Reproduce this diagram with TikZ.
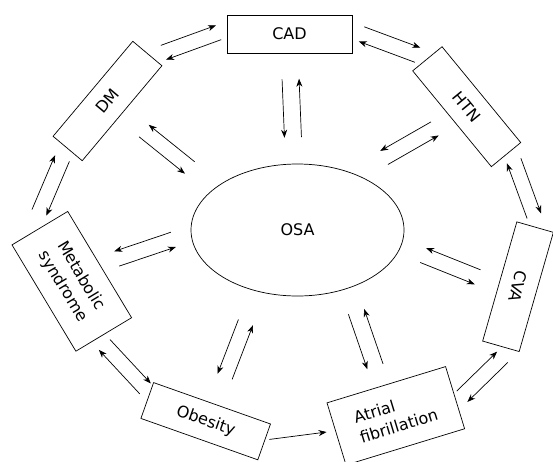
\documentclass[tikz,border=0pt]{standalone}
\usepackage{fontspec}
\setmainfont{DejaVu Sans}
\usetikzlibrary{calc,shapes.geometric,arrows.meta}

\begin{document}
\begin{tikzpicture}[
  x=1pt, y=-1pt,
  box/.style={draw, line width=0.7pt, minimum width=124pt, minimum height=38pt, inner sep=2pt, align=center},
  tallbox/.style={box, minimum height=65pt},
  arr/.style={-{Stealth[length=8pt,width=6pt,inset=2.5pt]}, line width=0.7pt}
]

\fontsize{16}{21}\selectfont

\useasboundingbox (0,0) rectangle (553,461);

% centre
\node[draw, ellipse, line width=0.7pt, minimum width=213pt, minimum height=132pt, inner sep=0pt] (osa) at (297.5,230) {OSA};

% outer boxes
\node[box, minimum width=125pt] (cad) at (289.5,34) {CAD};
\node[box, rotate=50] (dm) at (107.5,101) {DM};
\node[box, rotate=-50.6] (htn) at (466.7,106.7) {HTN};
\node[box, rotate=-106] (cva) at (518,286.7) {CVA};
\node[tallbox, rotate=-59] (met) at (71.8,281.3) {Metabolic\\syndrome};
\node[box, rotate=-19.5] (obe) at (205.7,421.2) {Obesity};
\node[tallbox, rotate=17, align=left] (af) at (395.8,415.8) {Atrial\\fibrillation};

% ring
\foreach \a/\b/\s/\t/\o in {dm.-5/cad.176/12.4pt/8.6pt/7.6pt,
    cad.3/htn.west/9.8pt/10.2pt/7.8pt,
    htn.5/cva.177/10pt/12.5pt/7.4pt,
    cva.9/af.-4/11pt/7.5pt/7.6pt,
    met.-6/obe.173/9pt/6.2pt/7.6pt,
    dm.179/met.190/11.1pt/22.7pt/7.8pt}
{
  \draw[arr] ($(\a)!\s!(\b)!\o!90:(\b)$) -- ($(\b)!\t!(\a)!\o!-90:(\a)$);
  \draw[arr] ($(\b)!\t!(\a)!\o!90:(\a)$) -- ($(\a)!\s!(\b)!\o!-90:(\b)$);
}
\draw[arr, shorten <=4.2pt, shorten >=8.7pt] (obe.2) -- (af.177);

% spokes
\foreach \a/\b/\s/\t/\o in {cad.south/osa.93/25.7pt/26.3pt/8.5pt,
    htn.south/osa.44/19.5pt/33.2pt/7.8pt,
    cva.-78/osa.-9/22.2pt/23.8pt/7.8pt,
    af.98/osa.-49/20.3pt/24.6pt/8.3pt,
    obe.83/osa.-123/29.1pt/33pt/7.8pt,
    met.north/osa.182/17.7pt/18.4pt/7.8pt,
    dm.south/osa.153/27.7pt/32.2pt/7.7pt}
{
  \draw[arr] ($(\a)!\s!(\b)!\o!-90:(\b)$) -- ($(\b)!\t!(\a)!\o!90:(\a)$);
  \draw[arr] ($(\b)!\t!(\a)!\o!-90:(\a)$) -- ($(\a)!\s!(\b)!\o!90:(\b)$);
}

\end{tikzpicture}
\end{document}
